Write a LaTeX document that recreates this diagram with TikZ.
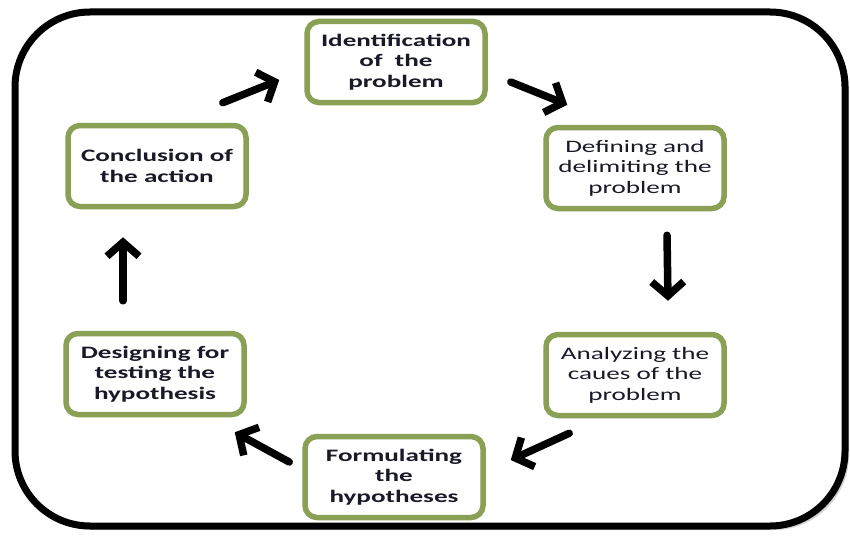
\documentclass[tikz,border=0pt]{standalone}
\usepackage{fontspec}
\setmainfont{Carlito}[FakeStretch=1.55]
\usetikzlibrary{arrows.meta,shadows}

\begin{document}
\begin{tikzpicture}[x=1pt,y=-1pt,
  stage/.style={draw=stagecolor, line width=5.5pt, rounded corners=12pt, fill=white,
    minimum width=178pt, minimum height=81pt, align=center, text=textcolor,
    font=\fontsize{17.5}{20.5}\selectfont},
  flow/.style={line width=7.5pt, line cap=round, -{Straight Barb[length=14pt,width=32pt]}}]

% Olive green of the boxes, dark text
\definecolor{stagecolor}{RGB}{138,160,84}
\definecolor{textcolor}{RGB}{25,25,40}

\useasboundingbox (0,0) rectangle (850,535);

% Outer frame with shadow
\draw[line width=7pt, rounded corners=75pt, fill=white,
  drop shadow={shadow xshift=4pt, shadow yshift=-4pt, opacity=0.35}]
  (15,12) rectangle (845,526);

% Stages of the cycle
\node[stage] (ident) at (396,62) {\bfseries Identification\\\bfseries of~ the\\\bfseries problem};
\node[stage] (defin) at (635,168) {Defining and\\delimiting the\\problem};
\node[stage] (analy) at (635,375) {Analyzing the\\caues of the\\problem};
\node[stage] (formu) at (394,477) {\bfseries Formulating\\\bfseries the\\\bfseries hypotheses};
\node[stage] (desig) at (155,374) {\bfseries Designing for\\\bfseries testing the\\\bfseries hypothesis};
\node[stage] (concl) at (157,166) {\bfseries Conclusion of\\\bfseries the action};

% Arrows between the stages
\draw[flow] ([shift={(-26,-20)}]concl.north east) -- ([shift={(-25,18)}]ident.west);
\draw[flow] ([shift={(23,20)}]ident.east) -- ([shift={(24,-20)}]defin.north west);
\draw[flow] ([shift={(32,24)}]defin.south) -- ([shift={(33,-31)}]analy.north);
\draw[flow] ([shift={(26,15)}]analy.south west) -- ([shift={(25,-17)}]formu.east);
\draw[flow] ([shift={(-13,-15)}]formu.west) -- ([shift={(-12,15)}]desig.south east);
\draw[flow] ([shift={(-32,-30)}]desig.north) -- ([shift={(-34,28)}]concl.south);

\end{tikzpicture}
\end{document}
